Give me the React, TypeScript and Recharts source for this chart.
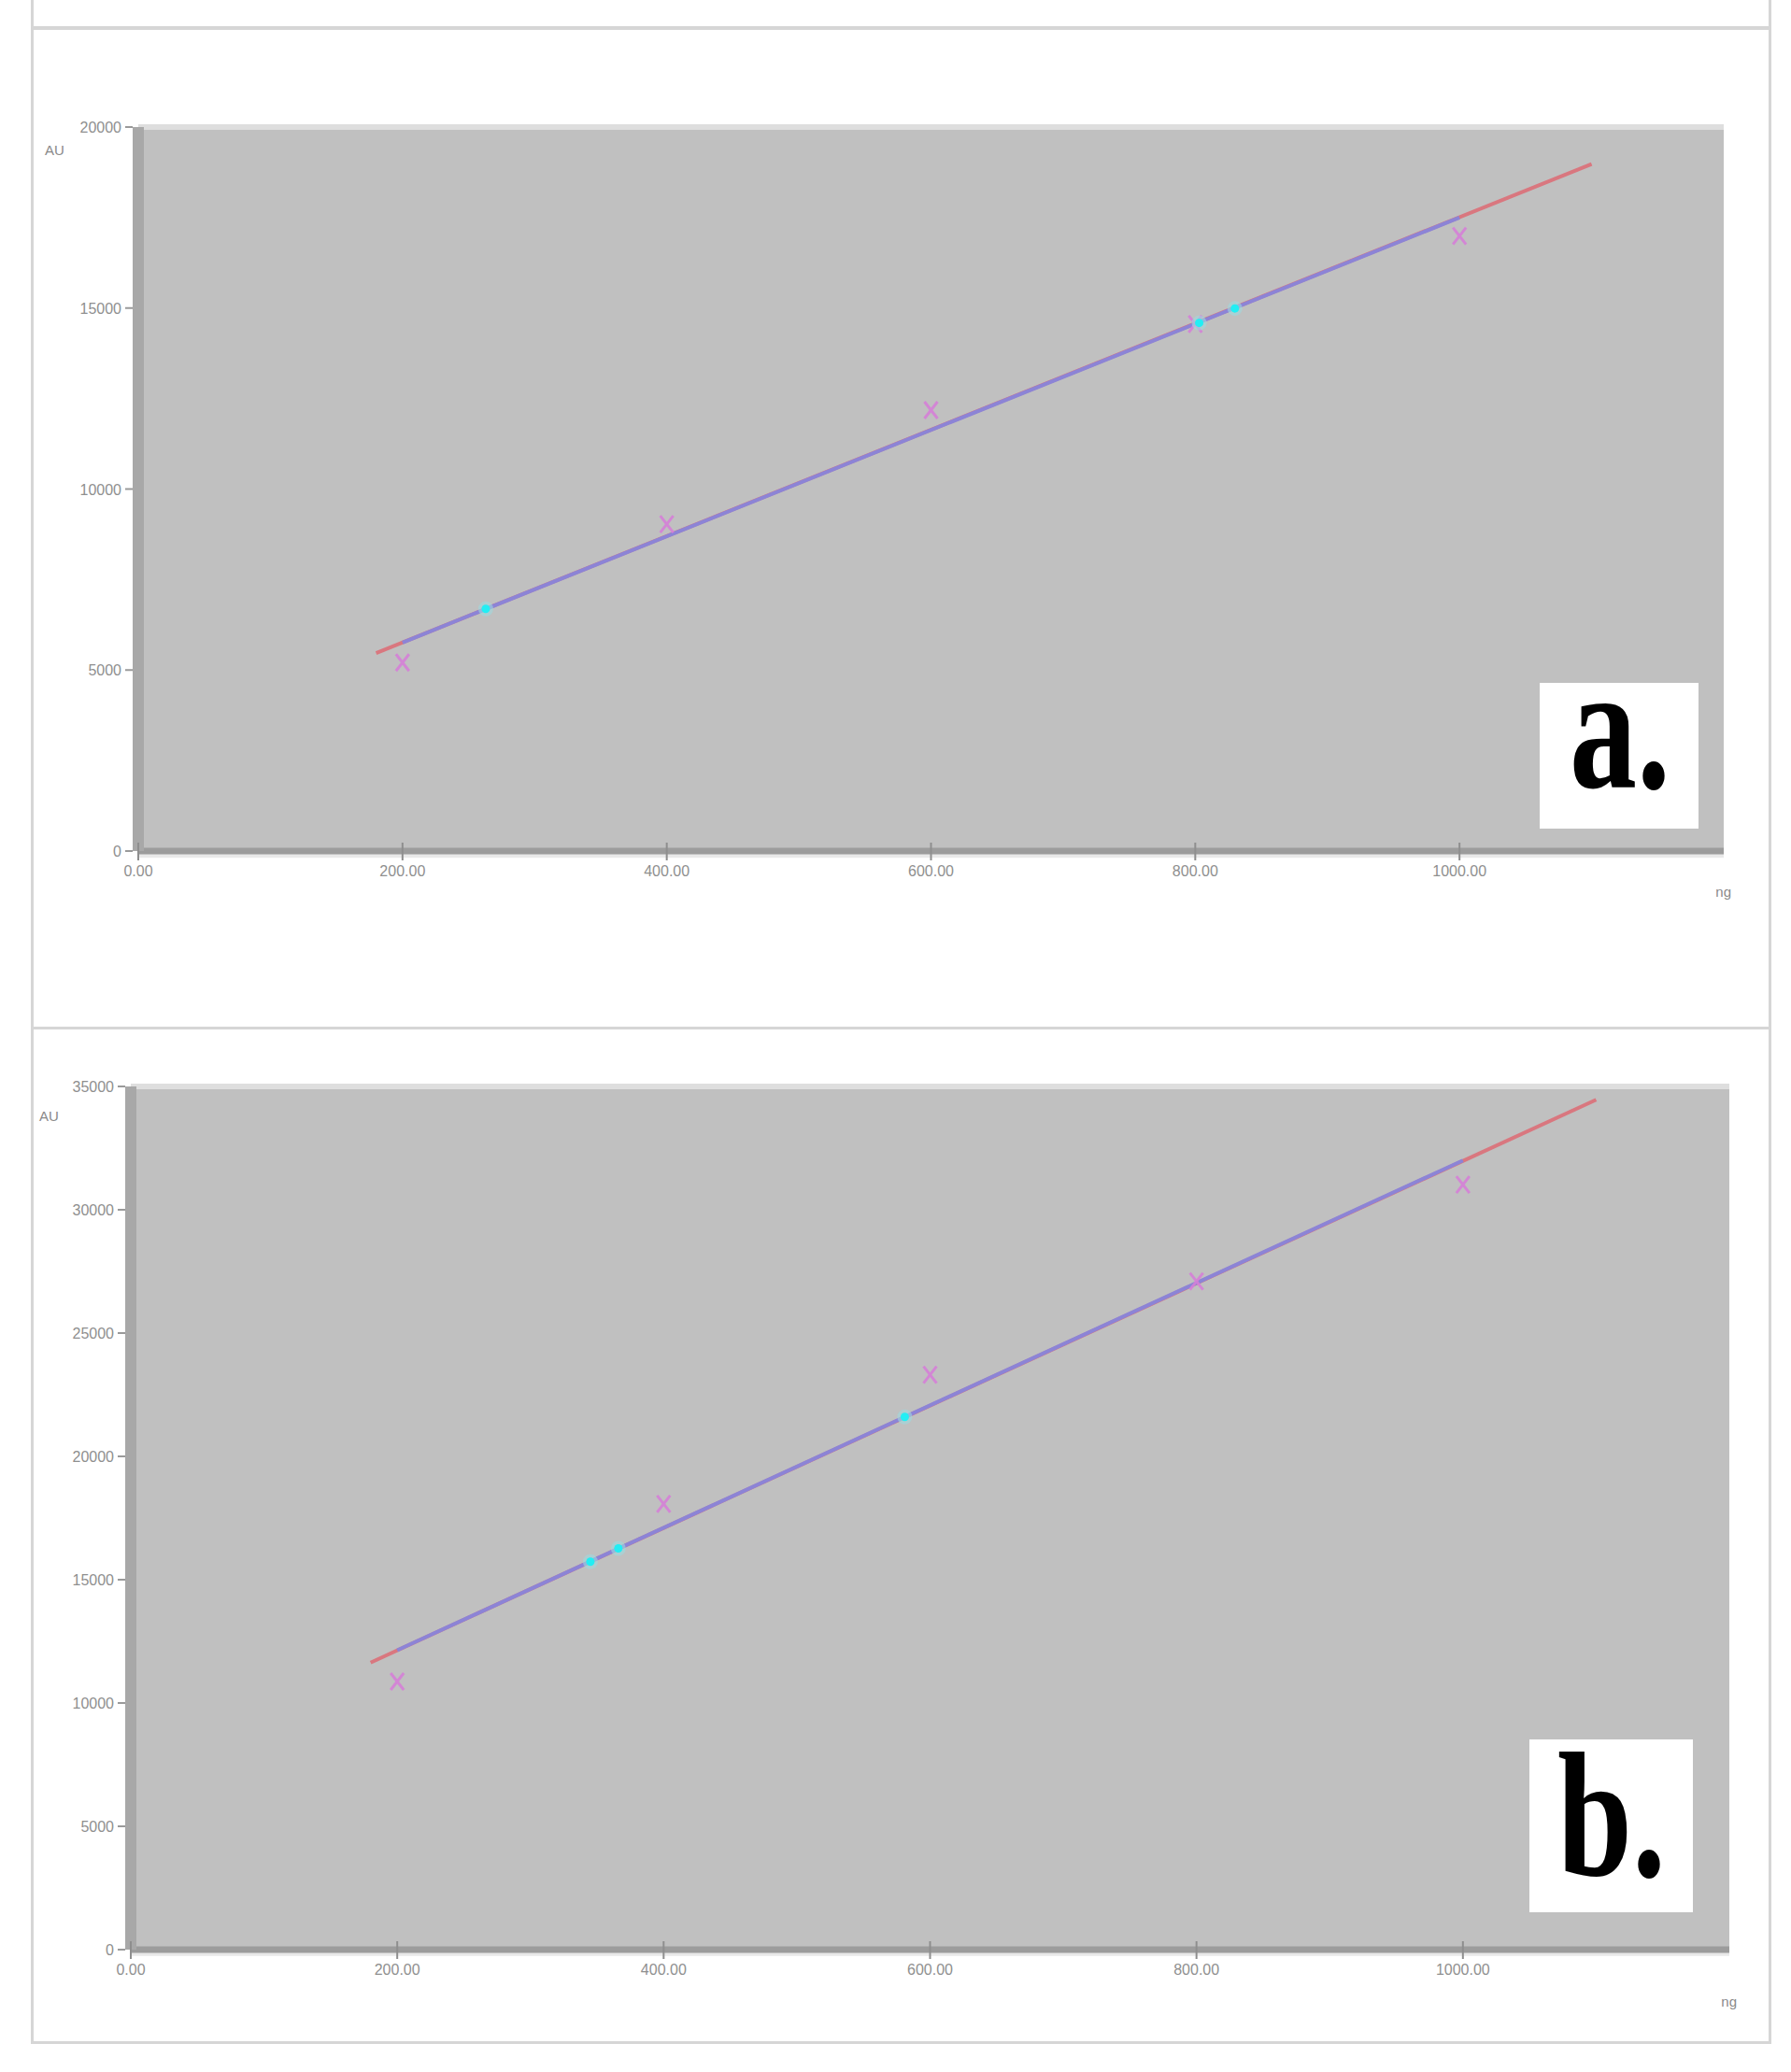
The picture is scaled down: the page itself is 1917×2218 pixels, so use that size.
import React from "react";
import {
  CartesianGrid,
  ComposedChart,
  Line,
  ReferenceArea,
  ReferenceLine,
  Scatter,
  XAxis,
  YAxis,
} from "recharts";

// concentrations (x) shared by both panels
const concentrations = [200, 400, 600, 800, 1000];
const xTicks = [0, 200, 400, 600, 800, 1000];

// panel a
const areaA = [5206, 9030, 12180, 14560, 16990];
const fitOuterXA = [180, 1100];
const fitOuterYA = [5470, 18980];
const fitInnerXA = [200, 1000];
const fitInnerYA = [5760, 17500];
const unknownXA = [263, 803, 830];
const unknownYA = [6690, 14590, 14990];
const yTicksA = [0, 5000, 10000, 15000, 20000];

// panel b
const areaB = [10870, 18070, 23310, 27100, 31020];
const fitOuterXB = [180, 1100];
const fitOuterYB = [11640, 34460];
const fitInnerXB = [200, 1000];
const fitInnerYB = [12140, 32000];
const unknownXB = [345, 366, 581];
const unknownYB = [15730, 16270, 21600];
const yTicksB = [0, 5000, 10000, 15000, 20000, 25000, 30000, 35000];

const zip = (xs: number[], ys: number[]) => xs.map((x, i) => ({ x, y: ys[i] }));

const TICK_FONT = "'Liberation Sans', Arial, sans-serif";
const TICK_FILL = "#8f8f8f";

const YTick = ({ x, y, payload }: any) => (
  <g>
    <line x1={x - 14} x2={x - 6} y1={y} y2={y} stroke="#9a9a9a" strokeWidth={2} />
    <text
      x={x - 18}
      y={y}
      dy={6}
      textAnchor="end"
      fontSize={16}
      fontFamily={TICK_FONT}
      fill={TICK_FILL}
    >
      {payload.value}
    </text>
  </g>
);

const XTick = ({ x, y, payload }: any) => (
  <g>
    <line x1={x} x2={x} y1={y - 9} y2={y + 10} stroke="#8e8e8e" strokeWidth={2} />
    <text
      x={x}
      y={y}
      dy={27}
      textAnchor="middle"
      fontSize={16}
      fontFamily={TICK_FONT}
      fill={TICK_FILL}
    >
      {payload.value.toFixed(2)}
    </text>
  </g>
);

const Cross = ({ cx, cy }: any) => (
  <g stroke="#d680d8" strokeWidth={3} opacity={0.9}>
    <line x1={cx - 7} y1={cy - 9} x2={cx + 7} y2={cy + 9} />
    <line x1={cx + 7} y1={cy - 9} x2={cx - 7} y2={cy + 9} />
  </g>
);

const Dot = ({ cx, cy }: any) => (
  <g>
    <circle cx={cx} cy={cy} r={8} fill="#9fd8de" opacity={0.6} />
    <circle cx={cx} cy={cy} r={4.5} fill="#22eef4" />
  </g>
);

interface PanelProps {
  top: number;
  height: number;
  plotLeft: number;
  plotTop: number;
  plotBottom: number;
  rightMargin: number;
  yMax: number;
  yTicks: number[];
  points: { x: number; y: number }[];
  unknowns: { x: number; y: number }[];
  fitOuter: { x: number; y: number }[];
  fitInner: { x: number; y: number }[];
  yTitleDx: number;
  yTitleDy: number;
  xTitleDy: number;
  bandDepth: number;
  tag: string;
  tagBox: { left: number; top: number; width: number; height: number; tx: number; ty: number };
}

function Panel(p: PanelProps) {
  return (
    <div style={{ position: "absolute", left: 0, top: p.top, width: 1917, height: p.height }}>
      <ComposedChart
        width={1917}
        height={p.height}
        margin={{ top: p.plotTop, right: p.rightMargin, bottom: p.height - p.plotBottom - 30, left: 0 }}
      >
        <CartesianGrid horizontal={false} vertical={false} fill="#c0c0c0" />
        <XAxis
          type="number"
          dataKey="x"
          domain={[0, 1200]}
          ticks={xTicks}
          interval={0}
          height={30}
          tickSize={0}
          tickMargin={0}
          tickLine={false}
          tick={<XTick />}
          axisLine={{ stroke: "#9c9c9c", strokeWidth: 7 }}
          label={{
            content: ({ viewBox }: any) => (
              <text
                x={viewBox.x + viewBox.width + 8}
                y={viewBox.y + p.xTitleDy}
                textAnchor="end"
                fontSize={15}
                fontFamily={TICK_FONT}
                fill="#8a8a8a"
              >
                ng
              </text>
            ),
          }}
        />
        <YAxis
          type="number"
          dataKey="y"
          domain={[0, p.yMax]}
          ticks={p.yTicks}
          interval={0}
          width={p.plotLeft}
          tickSize={0}
          tickMargin={0}
          tickLine={false}
          tick={<YTick />}
          axisLine={{ stroke: "#a8a8a8", strokeWidth: 12 }}
          label={{
            content: ({ viewBox }: any) => (
              <text
                x={viewBox.x + p.yTitleDx}
                y={viewBox.y + p.yTitleDy}
                fontSize={15}
                fontFamily={TICK_FONT}
                fill="#8a8a8a"
              >
                AU
              </text>
            ),
          }}
        />
        <ReferenceLine y={p.yMax} stroke="#dedede" strokeWidth={6} ifOverflow="visible" />
        <ReferenceArea
          y1={-p.bandDepth}
          y2={0}
          x1={0}
          x2={1200}
          fill="#e9e9e9"
          fillOpacity={1}
          ifOverflow="visible"
        />
        <Line
          data={p.fitOuter}
          dataKey="y"
          stroke="#d9777f"
          strokeWidth={4}
          dot={false}
          isAnimationActive={false}
        />
        <Line
          data={p.fitInner}
          dataKey="y"
          stroke="#8c84d6"
          strokeWidth={4}
          dot={false}
          isAnimationActive={false}
        />
        <Scatter data={p.points} dataKey="y" shape={<Cross />} isAnimationActive={false} />
        <Scatter data={p.unknowns} dataKey="y" shape={<Dot />} isAnimationActive={false} />
      </ComposedChart>
      <div
        style={{
          position: "absolute",
          left: p.tagBox.left,
          top: p.tagBox.top,
          width: p.tagBox.width,
          height: p.tagBox.height,
          background: "#ffffff",
        }}
      >
        <svg width={p.tagBox.width} height={p.tagBox.height} overflow="visible" style={{ overflow: "visible" }}>
          <text
            x={p.tagBox.tx}
            y={p.tagBox.ty}
            transform="scale(1,1.33)"
            fontSize={144}
            fontWeight="bold"
            fontFamily="'Liberation Serif', 'Times New Roman', serif"
            fill="#000000"
          >
            {p.tag}
          </text>
        </svg>
      </div>
    </div>
  );
}

export default function App() {
  return (
    <div
      style={{
        position: "absolute",
        left: 0,
        top: 0,
        width: 1917,
        height: 2218,
        background: "#ffffff",
        overflow: "hidden",
      }}
    >
      {/* frame */}
      <div
        style={{
          position: "absolute",
          left: 33,
          top: -4,
          width: 1857,
          height: 2189,
          borderLeft: "3px solid #d6d6d6",
          borderRight: "3px solid #d6d6d6",
          borderBottom: "3px solid #d6d6d6",
        }}
      />
      <div style={{ position: "absolute", left: 33, top: 28, width: 1863, height: 4, background: "#d6d6d6" }} />
      <div style={{ position: "absolute", left: 33, top: 1099, width: 1863, height: 3, background: "#d6d6d6" }} />

      <Panel
        top={0}
        height={1101}
        plotLeft={148}
        plotTop={136}
        plotBottom={911}
        rightMargin={72}
        yMax={20000}
        yTicks={yTicksA}
        points={zip(concentrations, areaA)}
        unknowns={zip(unknownXA, unknownYA)}
        fitOuter={zip(fitOuterXA, fitOuterYA)}
        fitInner={zip(fitInnerXA, fitInnerYA)}
        yTitleDx={48}
        yTitleDy={30}
        xTitleDy={49}
        bandDepth={190}
        tag="a."
        tagBox={{ left: 1648, top: 731, width: 170, height: 156, tx: 32, ty: 84 }}
      />
      <Panel
        top={1101}
        height={1086}
        plotLeft={140}
        plotTop={62}
        plotBottom={986}
        rightMargin={66}
        yMax={35000}
        yTicks={yTicksB}
        points={zip(concentrations, areaB)}
        unknowns={zip(unknownXB, unknownYB)}
        fitOuter={zip(fitOuterXB, fitOuterYB)}
        fitInner={zip(fitInnerXB, fitInnerYB)}
        yTitleDx={42}
        yTitleDy={37}
        xTitleDy={61}
        bandDepth={260}
        tag="b."
        tagBox={{ left: 1637, top: 761, width: 175, height: 185, tx: 30, ty: 110 }}
      />
    </div>
  );
}
